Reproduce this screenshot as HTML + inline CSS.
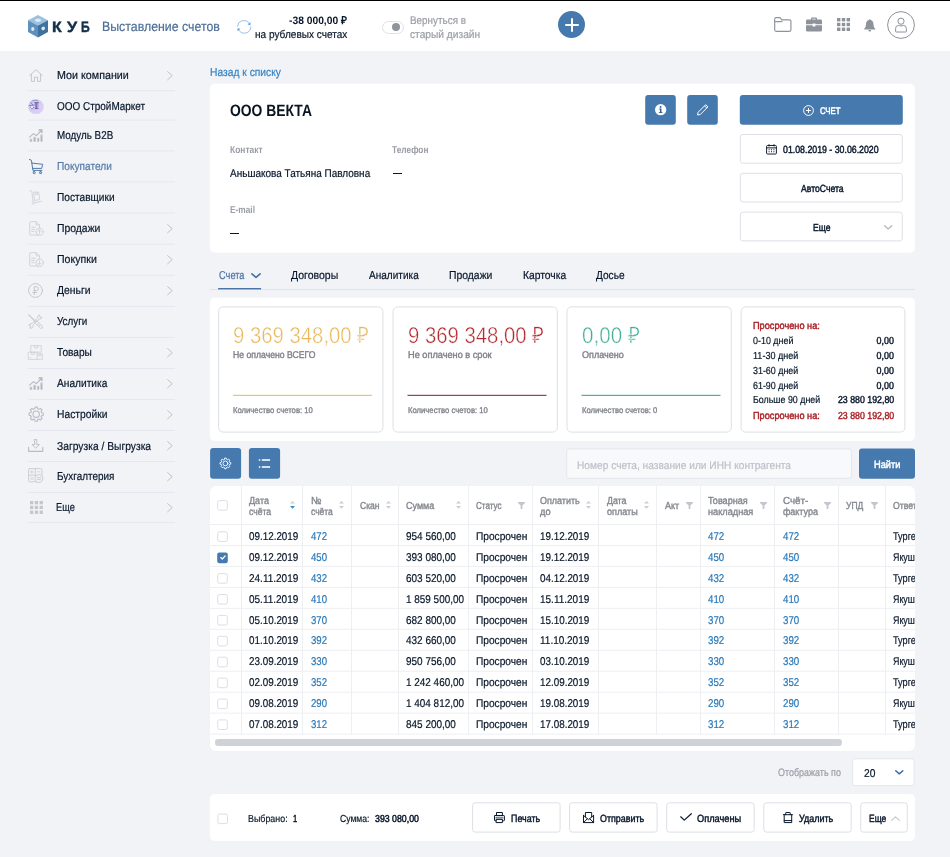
<!DOCTYPE html>
<html lang="ru"><head><meta charset="utf-8"><title>КУБ</title><style>
html,body{margin:0;padding:0;}
body{width:950px;height:857px;overflow:hidden;background:#f2f3f7;font-family:"Liberation Sans", sans-serif;position:relative;}
#root{position:absolute;left:0;top:0;width:950px;height:857px;overflow:hidden;will-change:transform;}
.a{position:absolute;}
.t{position:absolute;white-space:nowrap;line-height:1;transform-origin:0 50%;}
.tr{transform-origin:100% 50%;}
svg{position:absolute;overflow:visible;}
</style></head><body><div id="root">
<div class="a" style="left:0px;top:0px;width:950px;height:51px;background:#fff;"></div><div class="a" style="left:0px;top:0px;width:950px;height:1px;background:#000;"></div><svg style="left:28px;top:15.4px" width="20" height="22.4" viewBox="0 0 20 22.4">
<polygon points="10,0 20,5.3 10,10.6 0,5.3" fill="#9cc0de"/>
<polygon points="0,5.3 10,10.6 10,22.4 0,17.1" fill="#5e90bd"/>
<polygon points="20,5.3 10,10.6 10,22.4 20,17.1" fill="#41729f"/>
<ellipse cx="10" cy="5.2" rx="3" ry="1.7" fill="#dbe9f5"/>
<ellipse cx="4.8" cy="14" rx="1.6" ry="2" fill="#dbe9f5"/>
<ellipse cx="15.2" cy="13.4" rx="1.9" ry="1.7" fill="#dbe9f5" transform="rotate(-28 15.2 13.4)"/>
</svg><span class="t" style="top:19px;font-size:15px;color:#12304b;font-weight:700;left:52.00px;transform:scaleX(1.0594) rotate(0.03deg);-webkit-text-stroke:0.45px #12304b;">К</span><span class="t" style="top:19px;font-size:15px;color:#12304b;font-weight:700;left:67.20px;transform:scaleX(1.0809) rotate(0.03deg);-webkit-text-stroke:0.45px #12304b;">У</span><span class="t" style="top:19px;font-size:15px;color:#12304b;font-weight:700;left:81.20px;transform:scaleX(0.8070) rotate(0.03deg);-webkit-text-stroke:0.45px #12304b;">Б</span><span class="t" style="top:20px;font-size:13.4px;color:#4f6f97;-webkit-text-stroke:0.2px #4f6f97;left:101.70px;transform:scaleX(0.9221) rotate(0.03deg);">Выставление счетов</span><svg style="left:237px;top:20.2px" width="14" height="13.2" viewBox="0 0 14 13.2" fill="none" stroke="#8bb8e5" stroke-width="0.9" stroke-linecap="round">
<path d="M0.4 6.2A6.6 6.5 0 0 1 12.5 3.4"/><path d="M13.9 7.1A6.6 6.5 0 0 1 1.6 9.9"/>
<path d="M13.6 2.2L13.3 5.4L10.6 4.2Z" fill="#5f9fdc" stroke="none"/><path d="M0.4 11.1L0.7 7.9L3.4 9.1Z" fill="#5f9fdc" stroke="none"/></svg><span class="t" style="top:15px;font-size:10.8px;color:#08172a;font-weight:700;left:288.80px;transform:scaleX(0.9515) rotate(0.03deg);">-38 000,00 ₽</span><span class="t" style="top:29px;font-size:11px;color:#08172a;-webkit-text-stroke:0.2px #08172a;left:254.70px;transform:scaleX(0.9156) rotate(0.03deg);">на рублевых счетах</span><div class="a" style="left:381.5px;top:20.5px;width:22px;height:13px;background:#fff;border:1px solid #dfe1e6;box-sizing:border-box;border-radius:7px;"></div><div class="a" style="left:391.6px;top:23px;width:8px;height:8px;background:#8f939b;border-radius:4px;"></div><span class="t" style="top:15px;font-size:11px;color:#9a9da6;-webkit-text-stroke:0.2px #9a9da6;left:409.90px;transform:scaleX(0.8991) rotate(0.03deg);">Вернуться в</span><span class="t" style="top:29px;font-size:11px;color:#9a9da6;-webkit-text-stroke:0.2px #9a9da6;left:409.90px;transform:scaleX(0.9273) rotate(0.03deg);">старый дизайн</span><div class="a" style="left:558px;top:11px;width:27.4px;height:27.4px;background:#4679ae;border-radius:14px;"></div><div class="a" style="left:564.7px;top:23.7px;width:14px;height:2px;background:#fff;border-radius:1px;"></div><div class="a" style="left:570.7px;top:17.7px;width:2px;height:14px;background:#fff;border-radius:1px;"></div><svg style="left:773.5px;top:17px" width="17.6" height="15" viewBox="0 0 18 15" preserveAspectRatio="none" fill="none" stroke="#8e929b" stroke-width="1.2" stroke-linejoin="round">
<path d="M0.7 2.2Q0.7 0.7 2.2 0.7H6.2L8 2.9H15.8Q17.3 2.9 17.3 4.4V12.8Q17.3 14.3 15.8 14.3H2.2Q0.7 14.3 0.7 12.8Z"/><path d="M0.7 4.6H8.6"/></svg><svg style="left:806px;top:17px" width="16" height="15" viewBox="0 0 16 15" fill="#8e929b">
<path d="M5 2.6V1.6Q5 0.4 6.2 0.4H9.8Q11 0.4 11 1.6V2.6H14.6Q16 2.6 16 4V7.2H9.4V6.4H6.6V7.2H0V4Q0 2.6 1.4 2.6ZM6.3 2.6H9.7V1.7H6.3Z"/>
<path d="M0 8.3H6.6V9.4H9.4V8.3H16V13.2Q16 14.6 14.6 14.6H1.4Q0 14.6 0 13.2Z"/></svg><svg style="left:837px;top:18px" width="13" height="13" viewBox="0 0 13 13" fill="#8e929b"><rect x="0" y="0" width="3.4" height="3.4"/><rect x="4.8" y="0" width="3.4" height="3.4"/><rect x="9.6" y="0" width="3.4" height="3.4"/><rect x="0" y="4.8" width="3.4" height="3.4"/><rect x="4.8" y="4.8" width="3.4" height="3.4"/><rect x="9.6" y="4.8" width="3.4" height="3.4"/><rect x="0" y="9.6" width="3.4" height="3.4"/><rect x="4.8" y="9.6" width="3.4" height="3.4"/><rect x="9.6" y="9.6" width="3.4" height="3.4"/></svg><svg style="left:864px;top:19px" width="11.5" height="13" viewBox="0 0 11.5 13" fill="#8e929b">
<path d="M5.75 0.2Q6.6 0.2 6.6 1.1Q9.5 2 9.5 5.4Q9.5 8.4 11.3 9.8V10.4H0.2V9.8Q2 8.4 2 5.4Q2 2 4.9 1.1Q4.9 0.2 5.75 0.2Z"/><path d="M4.3 11.1H7.2Q7.2 12.6 5.75 12.6Q4.3 12.6 4.3 11.1Z"/></svg><svg style="left:887px;top:11px" width="28" height="28" viewBox="0 0 28 28" fill="none" stroke="#8e929b" stroke-width="1">
<circle cx="14" cy="14" r="13.4"/><circle cx="14" cy="10.2" r="3.1"/>
<path d="M8.6 20.4V17.6Q8.6 14.6 11.4 14.4Q14 15.6 16.6 14.4Q19.4 14.6 19.4 17.6V20.4Q19.4 21 18.8 21H9.2Q8.6 21 8.6 20.4Z"/></svg><svg style="left:27px;top:89px" width="149" height="4"><rect x="1.00" y="1.20" width="147.00" height="1.00" rx="0" fill="#e4e7f0"/></svg><svg style="left:27px;top:118px" width="149" height="4"><rect x="1.00" y="1.60" width="147.00" height="1.00" rx="0" fill="#e4e7f0"/></svg><svg style="left:27px;top:149px" width="149" height="4"><rect x="1.00" y="1.40" width="147.00" height="1.00" rx="0" fill="#e4e7f0"/></svg><svg style="left:27px;top:180px" width="149" height="4"><rect x="1.00" y="1.30" width="147.00" height="1.00" rx="0" fill="#e4e7f0"/></svg><svg style="left:27px;top:211px" width="149" height="4"><rect x="1.00" y="1.50" width="147.00" height="1.00" rx="0" fill="#e4e7f0"/></svg><svg style="left:27px;top:242px" width="149" height="4"><rect x="1.00" y="1.70" width="147.00" height="1.00" rx="0" fill="#e4e7f0"/></svg><svg style="left:27px;top:273px" width="149" height="4"><rect x="1.00" y="1.80" width="147.00" height="1.00" rx="0" fill="#e4e7f0"/></svg><svg style="left:27px;top:304px" width="149" height="4"><rect x="1.00" y="1.90" width="147.00" height="1.00" rx="0" fill="#e4e7f0"/></svg><svg style="left:27px;top:335px" width="149" height="4"><rect x="1.00" y="1.90" width="147.00" height="1.00" rx="0" fill="#e4e7f0"/></svg><svg style="left:27px;top:367px" width="149" height="3"><rect x="1.00" y="1.00" width="147.00" height="1.00" rx="0" fill="#e4e7f0"/></svg><svg style="left:27px;top:398px" width="149" height="4"><rect x="1.00" y="1.10" width="147.00" height="1.00" rx="0" fill="#e4e7f0"/></svg><svg style="left:27px;top:429px" width="149" height="3"><rect x="1.00" y="1.00" width="147.00" height="1.00" rx="0" fill="#e4e7f0"/></svg><svg style="left:27px;top:460px" width="149" height="3"><rect x="1.00" y="1.00" width="147.00" height="1.00" rx="0" fill="#e4e7f0"/></svg><svg style="left:27px;top:490px" width="149" height="4"><rect x="1.00" y="1.90" width="147.00" height="1.00" rx="0" fill="#e4e7f0"/></svg><svg style="left:27px;top:521px" width="149" height="4"><rect x="1.00" y="1.10" width="147.00" height="1.00" rx="0" fill="#e4e7f0"/></svg><span class="t" style="top:70px;font-size:11.5px;color:#08172a;-webkit-text-stroke:0.2px #08172a;left:56.80px;transform:scaleX(0.9323) rotate(0.03deg);">Мои компании</span><svg style="left:28.5px;top:68.8px" width="14" height="13" viewBox="0 0 14 13" fill="none" stroke="#c3c6cd" stroke-width="1" stroke-linecap="round" stroke-linejoin="round"><path d="M0.6 6.6L7 0.7L13.4 6.6"/><path d="M2.4 5.4V12.4H5.4V8.2H8.6V12.4H11.6V5.4"/></svg><svg style="left:167px;top:71.3px" width="6" height="9.4" viewBox="0 0 6 9.4" fill="none" stroke="#b9bcc4" stroke-width="0.9" stroke-linecap="round" stroke-linejoin="round"><path d="M0.6 0.6L5.2 4.7L0.6 8.8"/></svg><span class="t" style="top:101px;font-size:11.5px;color:#08172a;-webkit-text-stroke:0.2px #08172a;left:56.80px;transform:scaleX(0.8657) rotate(0.03deg);">ООО СтройМаркет</span><svg style="left:28.1px;top:98.6px" width="16" height="15.4" viewBox="0 0 16 15.4"><defs><linearGradient id="avg" x1="0" y1="0" x2="1" y2="1"><stop offset="0" stop-color="#c9c6e6"/><stop offset="0.5" stop-color="#d9ccf3"/><stop offset="1" stop-color="#e0cdfb"/></linearGradient></defs><ellipse cx="8" cy="7.7" rx="7.8" ry="7.4" fill="url(#avg)"/><g fill="none" stroke="#4a4893" stroke-opacity="0.75" stroke-width="0.9" stroke-linecap="round"><path d="M6.6 3.6H10.6"/><path d="M8.1 4.2V9.4" stroke-width="1.6" stroke-opacity="0.7"/><path d="M9.8 4.2V9.4" stroke-opacity="0.55"/><path d="M7 9.6H10.2" stroke-opacity="0.6"/><path d="M2.6 3.4L4.6 5.6M1.2 6.6L6.4 6" stroke-opacity="0.6"/><path d="M2.6 8.2L4 10.2L6 8.2" stroke-opacity="0.7"/><path d="M4 1.8Q7 0.6 9.6 1.4" stroke-opacity="0.45"/></g><circle cx="3.9" cy="8.4" r="1" fill="#fff" fill-opacity="0.85"/></svg><span class="t" style="top:130px;font-size:11.5px;color:#08172a;-webkit-text-stroke:0.2px #08172a;left:56.80px;transform:scaleX(0.8554) rotate(0.03deg);">Модуль B2B</span><svg style="left:28.5px;top:129.2px" width="14" height="13" viewBox="0 0 14 13" fill="none" stroke="#b7bac2" stroke-width="1.1" stroke-linecap="round" stroke-linejoin="round"><path d="M0.6 8.2L4.6 4.6L7.4 6.6L12.8 1"/><path d="M10 0.8H13V3.8Z" fill="#b7bac2"/><path d="M1.2 10.4V12.4H2.8V10.4ZM4.8 8.6V12.4H6.4V8.6ZM8.4 9.6V12.4H10V9.6ZM11.8 6.2V12.4H13.2V6.2Z" fill="#b7bac2" stroke-width="0.6"/></svg><span class="t" style="top:161px;font-size:11.5px;color:#557aa8;-webkit-text-stroke:0.2px #557aa8;left:56.80px;transform:scaleX(0.8821) rotate(0.03deg);">Покупатели</span><svg style="left:28.5px;top:158.8px" width="15" height="15.4" viewBox="0 0 15 15.4" fill="none" stroke="#4a74a6" stroke-width="0.95" stroke-linecap="round" stroke-linejoin="round"><path d="M0.4 0.5L2.4 1.3L3.9 11.4H12.9"/><path d="M2.9 4.1L13.7 5.3L12.7 9.4H3.6"/><rect x="4.2" y="12.7" width="2" height="1.9" rx="0.6"/><rect x="10.6" y="12.7" width="2" height="1.9" rx="0.6"/></svg><span class="t" style="top:192px;font-size:11.5px;color:#08172a;-webkit-text-stroke:0.2px #08172a;left:56.80px;transform:scaleX(0.8806) rotate(0.03deg);">Поставщики</span><svg style="left:28.5px;top:189.5px" width="14" height="15" viewBox="0 0 14 15" fill="none" stroke="#d3d6dc" stroke-width="1" stroke-linecap="round" stroke-linejoin="round"><path d="M0.8 0.8H2.8L4 11.6"/><path d="M5 2.2H9.6L10.8 9.6L5.8 10.4Z"/><path d="M6.6 2.2V4.6H8.4V2.2"/><circle cx="4.4" cy="13" r="1.3"/><path d="M5.8 12.6L12.8 11.4"/></svg><span class="t" style="top:223px;font-size:11.5px;color:#08172a;-webkit-text-stroke:0.2px #08172a;left:56.80px;transform:scaleX(0.9036) rotate(0.03deg);">Продажи</span><svg style="left:28.5px;top:220.8px" width="15" height="15" viewBox="0 0 15 15" fill="none" stroke="#d0d3d9" stroke-width="1" stroke-linecap="round" stroke-linejoin="round"><path d="M9.6 14H1.4Q0.7 14 0.7 13.3V1.4Q0.7 0.7 1.4 0.7H7.2L10.4 3.9V7"/><path d="M7.2 0.7V3.9H10.4"/><path d="M2.6 6.2H6.4M2.6 8.4H5.6M2.6 10.6H5"/><circle cx="10.6" cy="10.8" r="3.7"/><path d="M10.6 12.8V9M9 10.4L10.6 8.8L12.2 10.4"/></svg><svg style="left:167px;top:224.3px" width="6" height="9.4" viewBox="0 0 6 9.4" fill="none" stroke="#b9bcc4" stroke-width="0.9" stroke-linecap="round" stroke-linejoin="round"><path d="M0.6 0.6L5.2 4.7L0.6 8.8"/></svg><span class="t" style="top:254px;font-size:11.5px;color:#08172a;-webkit-text-stroke:0.2px #08172a;left:56.80px;transform:scaleX(0.9199) rotate(0.03deg);">Покупки</span><svg style="left:28.5px;top:251.7px" width="15" height="15" viewBox="0 0 15 15" fill="none" stroke="#d0d3d9" stroke-width="1" stroke-linecap="round" stroke-linejoin="round"><path d="M9.6 14H1.4Q0.7 14 0.7 13.3V1.4Q0.7 0.7 1.4 0.7H7.2L10.4 3.9V7"/><path d="M7.2 0.7V3.9H10.4"/><path d="M2.6 6.2H6.4M2.6 8.4H5.6M2.6 10.6H5"/><circle cx="10.6" cy="10.8" r="3.7"/><path d="M10.6 8.8V12.6M9 11.2L10.6 12.8L12.2 11.2"/></svg><svg style="left:167px;top:255.2px" width="6" height="9.4" viewBox="0 0 6 9.4" fill="none" stroke="#b9bcc4" stroke-width="0.9" stroke-linecap="round" stroke-linejoin="round"><path d="M0.6 0.6L5.2 4.7L0.6 8.8"/></svg><span class="t" style="top:285px;font-size:11.5px;color:#08172a;-webkit-text-stroke:0.2px #08172a;left:56.80px;transform:scaleX(0.9043) rotate(0.03deg);">Деньги</span><svg style="left:28px;top:282.8px" width="15" height="15" viewBox="0 0 15 15" fill="none" stroke="#c3c6cd" stroke-width="1" stroke-linecap="round" stroke-linejoin="round"><circle cx="7.5" cy="7.5" r="6.9"/><path d="M6.2 11.6V3.8H8.4Q10.4 3.8 10.4 5.7Q10.4 7.6 8.4 7.6H6.2M4.8 9.5H8.6"/></svg><svg style="left:167px;top:286.3px" width="6" height="9.4" viewBox="0 0 6 9.4" fill="none" stroke="#b9bcc4" stroke-width="0.9" stroke-linecap="round" stroke-linejoin="round"><path d="M0.6 0.6L5.2 4.7L0.6 8.8"/></svg><span class="t" style="top:316px;font-size:11.5px;color:#08172a;-webkit-text-stroke:0.2px #08172a;left:56.80px;transform:scaleX(0.8594) rotate(0.03deg);">Услуги</span><svg style="left:28.2px;top:313.6px" width="15.4" height="15" viewBox="0 0 15.4 15" fill="none" stroke="#c6c9d0" stroke-width="0.9" stroke-linecap="round" stroke-linejoin="round"><path d="M0.8 0.9L7.2 7.2" stroke-width="1.3"/><path d="M7.6 7.4L8.8 6.6L14.4 12.2Q15 13.4 14.2 14.1Q13.3 14.7 12.4 14L6.8 8.6Z"/><path d="M9 10.4L11.2 12.8M10 9.4L12.2 11.8" stroke-width="0.6"/><path d="M11.2 0.9Q9.2 1.6 9.6 3.8L3.6 9.8Q1.4 9.4 0.8 11.4L2.4 11.6L3 13.2L1.6 13.9Q3.4 14.8 4.8 13.4Q5.4 12.6 5 11.2L11 5.2Q13.2 5.6 13.9 3.6L12.3 3.4L11.8 1.9Z"/></svg><span class="t" style="top:347px;font-size:11.5px;color:#08172a;-webkit-text-stroke:0.2px #08172a;left:56.80px;transform:scaleX(0.8821) rotate(0.03deg);">Товары</span><svg style="left:28.1px;top:344.7px" width="15" height="15" viewBox="0 0 15 15" fill="none" stroke="#cfd2d8" stroke-width="0.9" stroke-linecap="round" stroke-linejoin="round"><rect x="3.2" y="0.6" width="10" height="6.6"/><path d="M6.6 0.6V2.8H9.6V0.6"/><rect x="0.6" y="7.2" width="8.6" height="7.2"/><path d="M3.4 7.2V9.4H6.2V7.2"/><path d="M9.2 9H14.4V14.4H9.2"/><path d="M11 9V10.8H12.8V9"/><path d="M1.8 12.8H3" stroke-width="0.7"/></svg><svg style="left:167px;top:347.9px" width="6" height="9.4" viewBox="0 0 6 9.4" fill="none" stroke="#b9bcc4" stroke-width="0.9" stroke-linecap="round" stroke-linejoin="round"><path d="M0.6 0.6L5.2 4.7L0.6 8.8"/></svg><span class="t" style="top:378px;font-size:11.5px;color:#08172a;-webkit-text-stroke:0.2px #08172a;left:56.80px;transform:scaleX(0.8854) rotate(0.03deg);">Аналитика</span><svg style="left:28.5px;top:376.7px" width="14" height="13" viewBox="0 0 14 13" fill="none" stroke="#b7bac2" stroke-width="1.1" stroke-linecap="round" stroke-linejoin="round"><path d="M0.6 8.2L4.6 4.6L7.4 6.6L12.8 1"/><path d="M10 0.8H13V3.8Z" fill="#b7bac2"/><path d="M1.2 10.4V12.4H2.8V10.4ZM4.8 8.6V12.4H6.4V8.6ZM8.4 9.6V12.4H10V9.6ZM11.8 6.2V12.4H13.2V6.2Z" fill="#b7bac2" stroke-width="0.6"/></svg><svg style="left:167px;top:379.2px" width="6" height="9.4" viewBox="0 0 6 9.4" fill="none" stroke="#b9bcc4" stroke-width="0.9" stroke-linecap="round" stroke-linejoin="round"><path d="M0.6 0.6L5.2 4.7L0.6 8.8"/></svg><span class="t" style="top:409px;font-size:11.5px;color:#08172a;-webkit-text-stroke:0.2px #08172a;left:56.80px;transform:scaleX(0.8938) rotate(0.03deg);">Настройки</span><svg style="left:27.6px;top:405.8px" width="16.4" height="16.4" viewBox="0 0 16.4 16.4" fill="none" stroke="#b9bcc4" stroke-width="1.1" stroke-linecap="round" stroke-linejoin="round"><polygon points="6.76,2.79 7.02,1.10 9.38,1.10 9.64,2.79 11.01,3.36 12.39,2.34 14.06,4.01 13.04,5.39 13.61,6.76 15.30,7.02 15.30,9.38 13.61,9.64 13.04,11.01 14.06,12.39 12.39,14.06 11.01,13.04 9.64,13.61 9.38,15.30 7.02,15.30 6.76,13.61 5.39,13.04 4.01,14.06 2.34,12.39 3.36,11.01 2.79,9.64 1.10,9.38 1.10,7.02 2.79,6.76 3.36,5.39 2.34,4.01 4.01,2.34 5.39,3.36"/><circle cx="8.2" cy="8.2" r="3.2"/></svg><svg style="left:167px;top:410.1px" width="6" height="9.4" viewBox="0 0 6 9.4" fill="none" stroke="#b9bcc4" stroke-width="0.9" stroke-linecap="round" stroke-linejoin="round"><path d="M0.6 0.6L5.2 4.7L0.6 8.8"/></svg><span class="t" style="top:441px;font-size:11.5px;color:#08172a;-webkit-text-stroke:0.2px #08172a;left:56.80px;transform:scaleX(0.8945) rotate(0.03deg);">Загрузка / Выгрузка</span><svg style="left:27.7px;top:438.6px" width="15.4" height="13.2" viewBox="0 0 15.4 13.2" fill="none" stroke="#b9bcc4" stroke-width="1.1" stroke-linecap="round" stroke-linejoin="round"><path d="M6.6 0.6H8.8V5.6H11.4L7.7 9.2L4 5.6H6.6Z" stroke-width="0.9"/><path d="M0.6 8.4V12.4H14.8V8.4"/></svg><svg style="left:167px;top:441.4px" width="6" height="9.4" viewBox="0 0 6 9.4" fill="none" stroke="#b9bcc4" stroke-width="0.9" stroke-linecap="round" stroke-linejoin="round"><path d="M0.6 0.6L5.2 4.7L0.6 8.8"/></svg><span class="t" style="top:471px;font-size:11.5px;color:#08172a;-webkit-text-stroke:0.2px #08172a;left:56.80px;transform:scaleX(0.8640) rotate(0.03deg);">Бухгалтерия</span><svg style="left:27.7px;top:468.2px" width="15.4" height="15" viewBox="0 0 15.4 15" fill="none" stroke="#c6c9d0" stroke-width="0.9" stroke-linecap="round" stroke-linejoin="round"><rect x="0.6" y="0.6" width="13.4" height="13.2" rx="1.2"/><path d="M7.3 0.6V7.4M0.6 7.2H7"/><path d="M2.6 3.9H5.2M3.9 2.6V5.2M9.4 3.9H12M2.8 9.4L5 11.6M5 9.4L2.8 11.6" stroke-width="0.8"/><circle cx="10.8" cy="10.6" r="4" fill="#f2f3f7"/><path d="M9 9.6H12.6M9 11.6H12.6" stroke-width="0.9"/></svg><svg style="left:167px;top:472.3px" width="6" height="9.4" viewBox="0 0 6 9.4" fill="none" stroke="#b9bcc4" stroke-width="0.9" stroke-linecap="round" stroke-linejoin="round"><path d="M0.6 0.6L5.2 4.7L0.6 8.8"/></svg><span class="t" style="top:502px;font-size:11.5px;color:#08172a;-webkit-text-stroke:0.2px #08172a;left:55.60px;transform:scaleX(0.8032) rotate(0.03deg);">Еще</span><svg style="left:29.5px;top:500.5px" width="13" height="13" viewBox="0 0 13 13" fill="#c3c6cd"><rect x="0" y="0" width="3.3" height="3.3"/><rect x="4.8" y="0" width="3.3" height="3.3"/><rect x="9.6" y="0" width="3.3" height="3.3"/><rect x="0" y="4.8" width="3.3" height="3.3"/><rect x="4.8" y="4.8" width="3.3" height="3.3"/><rect x="9.6" y="4.8" width="3.3" height="3.3"/><rect x="0" y="9.6" width="3.3" height="3.3"/><rect x="4.8" y="9.6" width="3.3" height="3.3"/><rect x="9.6" y="9.6" width="3.3" height="3.3"/></svg><svg style="left:167px;top:503px" width="6" height="9.4" viewBox="0 0 6 9.4" fill="none" stroke="#b9bcc4" stroke-width="0.9" stroke-linecap="round" stroke-linejoin="round"><path d="M0.6 0.6L5.2 4.7L0.6 8.8"/></svg><span class="t" style="top:67px;font-size:11.5px;color:#3483c2;-webkit-text-stroke:0.2px #3483c2;left:210.00px;transform:scaleX(0.8938) rotate(0.03deg);">Назад к списку</span><svg style="left:208px;top:82px" width="708" height="172"><rect x="1.80" y="1.70" width="705.20" height="169.10" rx="5" fill="#fff"/></svg><span class="t" style="top:102px;font-size:16.5px;color:#0a1420;font-weight:700;left:229.80px;transform:scaleX(0.8414) rotate(0.03deg);">ООО ВЕКТА</span><span class="t" style="top:145px;font-size:10px;color:#9a9da6;font-weight:700;left:229.80px;transform:scaleX(0.8440) rotate(0.03deg);">Контакт</span><span class="t" style="top:145px;font-size:10px;color:#9a9da6;font-weight:700;left:391.50px;transform:scaleX(0.8346) rotate(0.03deg);">Телефон</span><span class="t" style="top:168px;font-size:11.3px;color:#08172a;-webkit-text-stroke:0.2px #08172a;left:229.80px;transform:scaleX(0.8840) rotate(0.03deg);">Аньшакова Татьяна Павловна</span><div class="a" style="left:392.5px;top:173px;width:9px;height:1.2px;background:#08172a;"></div><span class="t" style="top:205px;font-size:10px;color:#9a9da6;font-weight:700;left:229.80px;transform:scaleX(0.8329) rotate(0.03deg);">E-mail</span><div class="a" style="left:229.8px;top:232.6px;width:9.4px;height:1.2px;background:#08172a;"></div><svg style="left:644px;top:93px" width="33" height="33"><rect x="1.20" y="1.90" width="30.60" height="29.80" rx="3" fill="#4679ae"/></svg><svg style="left:654.75px;top:103.75px" width="11.3" height="11.3" viewBox="0 0 11.3 11.3"><circle cx="5.65" cy="5.65" r="5.65" fill="#fff"/><g fill="#2f5d90"><rect x="4.95" y="4.6" width="1.5" height="4.2"/><rect x="4.1" y="4.6" width="1.6" height="0.85"/><rect x="3.9" y="8.1" width="3.6" height="0.85"/><circle cx="5.6" cy="2.9" r="0.95"/></g></svg><svg style="left:686px;top:93px" width="33" height="33"><rect x="1.20" y="1.90" width="30.60" height="29.80" rx="3" fill="#4679ae"/></svg><svg style="left:696.6px;top:104px" width="11.6" height="11.6" viewBox="0 0 11.6 11.6" fill="none" stroke="#fff" stroke-width="1" stroke-linejoin="round"><path d="M0.6 11L1.1 8.3L8.7 0.7L10.9 2.9L3.3 10.5Z"/><path d="M7.6 1.9L9.7 4"/></svg><svg style="left:738px;top:93px" width="166" height="33"><rect x="1.80" y="1.90" width="163.00" height="29.80" rx="3" fill="#4679ae"/></svg><svg style="left:803.2px;top:104.6px" width="11" height="11" viewBox="0 0 11 11" fill="none" stroke="#fff" stroke-width="1"><circle cx="5.5" cy="5.5" r="4.9"/><path d="M5.5 3V8M3 5.5H8"/></svg><span class="t" style="top:106px;font-size:9.6px;color:#fff;left:820.00px;transform:scaleX(0.8074) rotate(0.03deg);-webkit-text-stroke:0.55px #fff;">СЧЕТ</span><svg style="left:738px;top:133px" width="166" height="32"><rect x="2.30" y="1.50" width="162.00" height="28.70" rx="2.5" fill="#fff" stroke="#dcdfe5" stroke-width="1"/></svg><svg style="left:765.8px;top:143.5px" width="11" height="10.6" viewBox="0 0 11 11.5" preserveAspectRatio="none" fill="none" stroke="#08172a" stroke-width="1"><rect x="0.6" y="1.6" width="9.8" height="9.3" rx="1"/><path d="M0.6 4.2H10.4M3 0.3V2.6M8 0.3V2.6" /><path d="M2.6 6.2H3.6M5 6.2H6M7.4 6.2H8.4M2.6 8.4H3.6M5 8.4H6M7.4 8.4H8.4" stroke-width="1.1"/></svg><span class="t" style="top:145px;font-size:10.3px;color:#08172a;left:782.50px;transform:scaleX(0.8518) rotate(0.03deg);-webkit-text-stroke:0.45px #08172a;">01.08.2019 - 30.06.2020</span><svg style="left:738px;top:171px" width="166" height="33"><rect x="2.30" y="2.30" width="162.00" height="28.70" rx="2.5" fill="#fff" stroke="#dcdfe5" stroke-width="1"/></svg><span class="t" style="top:184px;font-size:10.3px;color:#08172a;left:800.50px;transform:scaleX(0.8379) rotate(0.03deg);-webkit-text-stroke:0.45px #08172a;">АвтоСчета</span><svg style="left:738px;top:210px" width="166" height="33"><rect x="2.30" y="2.10" width="162.00" height="28.80" rx="2.5" fill="#fff" stroke="#dcdfe5" stroke-width="1"/></svg><span class="t" style="top:223px;font-size:10.3px;color:#08172a;left:813.20px;transform:scaleX(0.8304) rotate(0.03deg);-webkit-text-stroke:0.45px #08172a;">Еще</span><svg style="left:883.6px;top:224.8px" width="8.4" height="4.8" viewBox="0 0 9 5" fill="none" stroke="#b3b6be" stroke-width="1.3" stroke-linecap="round" stroke-linejoin="round"><path d="M0.7 0.7L4.5 4.2L8.3 0.7"/></svg><svg style="left:208px;top:288px" width="708" height="3"><rect x="1.80" y="1.00" width="705.20" height="1.00" rx="0" fill="#e0e3eb"/></svg><span class="t" style="top:270px;font-size:11.5px;color:#4a74a6;-webkit-text-stroke:0.2px #4a74a6;left:219.40px;transform:scaleX(0.8039) rotate(0.03deg);">Счета</span><svg style="left:251px;top:273.3px" width="10" height="5.4" viewBox="0 0 10 5.4" fill="none" stroke="#4a74a6" stroke-width="1.75" stroke-linecap="round" stroke-linejoin="round"><path d="M0.9 0.9L5 4.4L9.1 0.9"/></svg><svg style="left:217px;top:287px" width="46" height="4"><rect x="1.10" y="1.00" width="43.00" height="1.40" rx="0" fill="#4a74a6"/></svg><span class="t" style="top:270px;font-size:11.5px;color:#08172a;-webkit-text-stroke:0.2px #08172a;left:290.90px;transform:scaleX(0.9129) rotate(0.03deg);">Договоры</span><span class="t" style="top:270px;font-size:11.5px;color:#08172a;-webkit-text-stroke:0.2px #08172a;left:368.70px;transform:scaleX(0.8749) rotate(0.03deg);">Аналитика</span><span class="t" style="top:270px;font-size:11.5px;color:#08172a;-webkit-text-stroke:0.2px #08172a;left:448.70px;transform:scaleX(0.9036) rotate(0.03deg);">Продажи</span><span class="t" style="top:270px;font-size:11.5px;color:#08172a;-webkit-text-stroke:0.2px #08172a;left:522.60px;transform:scaleX(0.8962) rotate(0.03deg);">Карточка</span><span class="t" style="top:270px;font-size:11.5px;color:#08172a;-webkit-text-stroke:0.2px #08172a;left:595.60px;transform:scaleX(0.8813) rotate(0.03deg);">Досье</span><svg style="left:208px;top:296px" width="708" height="146"><rect x="1.80" y="1.70" width="705.20" height="143.30" rx="5" fill="#fff"/></svg><svg style="left:217px;top:305px" width="168" height="129"><rect x="1.60" y="1.90" width="164.30" height="125.20" rx="4.5" fill="#fff" stroke="#dcdfe5" stroke-width="1"/></svg><span class="t" style="top:324px;font-size:22.8px;color:#e8b85a;left:233.40px;transform:scaleX(0.8914) rotate(0.03deg);-webkit-text-stroke:0.45px #fff;">9 369 348,00 ₽</span><span class="t" style="top:350px;font-size:9.8px;color:#80838b;left:233.40px;transform:scaleX(0.8834) rotate(0.03deg);-webkit-text-stroke:0.4px #80838b;">Не оплачено ВСЕГО</span><svg style="left:232px;top:393px" width="142" height="4"><rect x="1.10" y="1.80" width="139.00" height="1.10" rx="0" fill="#e3c25e"/></svg><span class="t" style="top:406px;font-size:8.4px;color:#82858d;left:233.40px;transform:scaleX(0.9176) rotate(0.03deg);-webkit-text-stroke:0.35px #82858d;">Количество счетов: 10</span><svg style="left:391px;top:305px" width="168" height="129"><rect x="2.00" y="1.90" width="164.30" height="125.20" rx="4.5" fill="#fff" stroke="#dcdfe5" stroke-width="1"/></svg><span class="t" style="top:324px;font-size:22.8px;color:#b3282d;left:407.80px;transform:scaleX(0.8914) rotate(0.03deg);-webkit-text-stroke:0.45px #fff;">9 369 348,00 ₽</span><span class="t" style="top:350px;font-size:9.8px;color:#80838b;left:407.80px;transform:scaleX(0.9383) rotate(0.03deg);-webkit-text-stroke:0.4px #80838b;">Не оплачено в срок</span><svg style="left:406px;top:393px" width="142" height="4"><rect x="1.50" y="1.80" width="139.00" height="1.10" rx="0" fill="#9c2b3a"/></svg><span class="t" style="top:406px;font-size:8.4px;color:#82858d;left:407.80px;transform:scaleX(0.9176) rotate(0.03deg);-webkit-text-stroke:0.35px #82858d;">Количество счетов: 10</span><svg style="left:565px;top:305px" width="168" height="129"><rect x="2.00" y="1.90" width="164.30" height="125.20" rx="4.5" fill="#fff" stroke="#dcdfe5" stroke-width="1"/></svg><span class="t" style="top:324px;font-size:22.8px;color:#45b096;left:581.80px;transform:scaleX(0.9042) rotate(0.03deg);-webkit-text-stroke:0.45px #fff;">0,00 ₽</span><span class="t" style="top:350px;font-size:9.8px;color:#80838b;left:581.80px;transform:scaleX(0.9206) rotate(0.03deg);-webkit-text-stroke:0.4px #80838b;">Оплачено</span><svg style="left:580px;top:393px" width="142" height="4"><rect x="1.50" y="1.80" width="139.00" height="1.10" rx="0" fill="#3aa9a0"/></svg><span class="t" style="top:406px;font-size:8.4px;color:#82858d;left:581.80px;transform:scaleX(0.9148) rotate(0.03deg);-webkit-text-stroke:0.35px #82858d;">Количество счетов: 0</span><svg style="left:739px;top:305px" width="168" height="129"><rect x="2.10" y="1.90" width="163.80" height="125.20" rx="4.5" fill="#fff" stroke="#dcdfe5" stroke-width="1"/></svg><span class="t" style="top:321px;font-size:10.2px;color:#ab2328;left:752.70px;transform:scaleX(0.9018) rotate(0.03deg);-webkit-text-stroke:0.45px #ab2328;">Просрочено на:</span><span class="t" style="top:336px;font-size:10.2px;color:#08172a;-webkit-text-stroke:0.2px #08172a;left:752.70px;transform:scaleX(0.8753) rotate(0.03deg);">0-10 дней</span><span class="t tr" style="top:336px;font-size:10.2px;color:#08172a;right:55.80px;transform:scaleX(0.8725) rotate(0.03deg);-webkit-text-stroke:0.45px #08172a;">0,00</span><span class="t" style="top:351px;font-size:10.2px;color:#08172a;-webkit-text-stroke:0.2px #08172a;left:752.70px;transform:scaleX(0.8871) rotate(0.03deg);">11-30 дней</span><span class="t tr" style="top:351px;font-size:10.2px;color:#08172a;right:55.80px;transform:scaleX(0.8725) rotate(0.03deg);-webkit-text-stroke:0.45px #08172a;">0,00</span><span class="t" style="top:366px;font-size:10.2px;color:#08172a;-webkit-text-stroke:0.2px #08172a;left:752.70px;transform:scaleX(0.8740) rotate(0.03deg);">31-60 дней</span><span class="t tr" style="top:366px;font-size:10.2px;color:#08172a;right:55.80px;transform:scaleX(0.8725) rotate(0.03deg);-webkit-text-stroke:0.45px #08172a;">0,00</span><span class="t" style="top:381px;font-size:10.2px;color:#08172a;-webkit-text-stroke:0.2px #08172a;left:752.70px;transform:scaleX(0.8740) rotate(0.03deg);">61-90 дней</span><span class="t tr" style="top:381px;font-size:10.2px;color:#08172a;right:55.80px;transform:scaleX(0.8725) rotate(0.03deg);-webkit-text-stroke:0.45px #08172a;">0,00</span><span class="t" style="top:395px;font-size:10.2px;color:#08172a;-webkit-text-stroke:0.2px #08172a;left:752.70px;transform:scaleX(0.8711) rotate(0.03deg);">Больше 90 дней</span><span class="t tr" style="top:395px;font-size:10.2px;color:#08172a;right:55.80px;transform:scaleX(0.8625) rotate(0.03deg);-webkit-text-stroke:0.45px #08172a;">23 880 192,80</span><span class="t" style="top:411px;font-size:10.2px;color:#ab2328;left:752.70px;transform:scaleX(0.9018) rotate(0.03deg);-webkit-text-stroke:0.45px #ab2328;">Просрочено на:</span><span class="t tr" style="top:411px;font-size:10.2px;color:#ab2328;right:55.80px;transform:scaleX(0.8625) rotate(0.03deg);-webkit-text-stroke:0.45px #ab2328;">23 880 192,80</span><svg style="left:209px;top:446px" width="34" height="34"><rect x="1.10" y="1.90" width="31.00" height="30.90" rx="3" fill="#4679ae"/></svg><svg style="left:219.05px;top:456.95px" width="12.8" height="12.8" viewBox="0 0 12.8 12.8" fill="none" stroke="#fff" stroke-width="0.9" stroke-linecap="round" stroke-linejoin="round"><polygon points="5.40,2.22 5.64,1.05 7.16,1.05 7.40,2.22 8.65,2.73 9.64,2.08 10.72,3.16 10.07,4.15 10.58,5.40 11.75,5.64 11.75,7.16 10.58,7.40 10.07,8.65 10.72,9.64 9.64,10.72 8.65,10.07 7.40,10.58 7.16,11.75 5.64,11.75 5.40,10.58 4.15,10.07 3.16,10.72 2.08,9.64 2.73,8.65 2.22,7.40 1.05,7.16 1.05,5.64 2.22,5.40 2.73,4.15 2.08,3.16 3.16,2.08 4.15,2.73"/><circle cx="6.4" cy="6.4" r="2.4"/></svg><svg style="left:247px;top:446px" width="35" height="34"><rect x="1.90" y="1.90" width="31.20" height="30.90" rx="3" fill="#4679ae"/></svg><svg style="left:257px;top:458px" width="5" height="4"><rect x="1.80" y="1.00" width="1.50" height="2.00" rx="0" fill="#d3e0ee"/></svg><svg style="left:257px;top:465px" width="5" height="4"><rect x="1.80" y="1.00" width="1.50" height="2.00" rx="0" fill="#d3e0ee"/></svg><svg style="left:260px;top:458px" width="12" height="4"><rect x="1.80" y="1.00" width="8.30" height="2.00" rx="0" fill="#d3e0ee"/></svg><svg style="left:260px;top:465px" width="12" height="4"><rect x="1.80" y="1.00" width="8.30" height="2.00" rx="0" fill="#d3e0ee"/></svg><svg style="left:565px;top:447px" width="289" height="33"><rect x="1.70" y="1.90" width="285.00" height="29.40" rx="2.5" fill="#f8f9fb" stroke="#e4e6ec" stroke-width="1"/></svg><span class="t" style="top:460px;font-size:11px;color:#bcbfc7;-webkit-text-stroke:0.2px #bcbfc7;left:577.00px;transform:scaleX(0.9253) rotate(0.03deg);">Номер счета, название или ИНН контрагента</span><svg style="left:858px;top:447px" width="58" height="33"><rect x="1.00" y="1.40" width="56.00" height="30.40" rx="3" fill="#4679ae"/></svg><span class="t" style="top:459px;font-size:10.5px;color:#fff;left:873.80px;transform:scaleX(0.8809) rotate(0.03deg);-webkit-text-stroke:0.5px #fff;">Найти</span><div class="a" style="left:210px;top:486px;width:705px;height:265px;background:#fff;border-radius:6px;overflow:hidden;"><div class="a" style="left:30.9px;top:0px;width:1px;height:248.5px;background:#edeff3;"></div><div class="a" style="left:92.1px;top:0px;width:1px;height:248.5px;background:#edeff3;"></div><div class="a" style="left:140.9px;top:0px;width:1px;height:248.5px;background:#edeff3;"></div><div class="a" style="left:188.1px;top:0px;width:1px;height:248.5px;background:#edeff3;"></div><div class="a" style="left:257.8px;top:0px;width:1px;height:248.5px;background:#edeff3;"></div><div class="a" style="left:322.2px;top:0px;width:1px;height:248.5px;background:#edeff3;"></div><div class="a" style="left:388.3px;top:0px;width:1px;height:248.5px;background:#edeff3;"></div><div class="a" style="left:445.9px;top:0px;width:1px;height:248.5px;background:#edeff3;"></div><div class="a" style="left:490.1px;top:0px;width:1px;height:248.5px;background:#edeff3;"></div><div class="a" style="left:563.9px;top:0px;width:1px;height:248.5px;background:#edeff3;"></div><div class="a" style="left:628.4px;top:0px;width:1px;height:248.5px;background:#edeff3;"></div><div class="a" style="left:675.1px;top:0px;width:1px;height:248.5px;background:#edeff3;"></div><svg style="left:0;top:37px" width="705" height="3"><rect x="0" y="1.00" width="705" height="1" fill="#edeff3"/></svg><svg style="left:0;top:57px" width="705" height="3"><rect x="0" y="1.96" width="705" height="1" fill="#edeff3"/></svg><svg style="left:0;top:78px" width="705" height="3"><rect x="0" y="1.92" width="705" height="1" fill="#edeff3"/></svg><svg style="left:0;top:99px" width="705" height="3"><rect x="0" y="1.88" width="705" height="1" fill="#edeff3"/></svg><svg style="left:0;top:120px" width="705" height="3"><rect x="0" y="1.84" width="705" height="1" fill="#edeff3"/></svg><svg style="left:0;top:141px" width="705" height="3"><rect x="0" y="1.80" width="705" height="1" fill="#edeff3"/></svg><svg style="left:0;top:162px" width="705" height="3"><rect x="0" y="1.76" width="705" height="1" fill="#edeff3"/></svg><svg style="left:0;top:183px" width="705" height="3"><rect x="0" y="1.72" width="705" height="1" fill="#edeff3"/></svg><svg style="left:0;top:204px" width="705" height="3"><rect x="0" y="1.68" width="705" height="1" fill="#edeff3"/></svg><svg style="left:0;top:225px" width="705" height="3"><rect x="0" y="1.64" width="705" height="1" fill="#edeff3"/></svg><svg style="left:0;top:246px" width="705" height="3"><rect x="0" y="1.60" width="705" height="1" fill="#edeff3"/></svg><svg style="left:6px;top:13px" width="13" height="13"><rect x="1.70" y="1.60" width="9.60" height="9.60" rx="1.7" fill="#fff" stroke="#dcdee4" stroke-width="1"/></svg><span class="t" style="top:10px;font-size:10.2px;color:#85888f;left:38.60px;transform:scaleX(0.8820) rotate(0.03deg);-webkit-text-stroke:0.4px #85888f;">Дата</span><span class="t" style="top:21px;font-size:10.2px;color:#85888f;left:38.60px;transform:scaleX(0.8444) rotate(0.03deg);-webkit-text-stroke:0.4px #85888f;">счёта</span><svg style="left:80px;top:15.2px" width="5" height="8" viewBox="0 0 5 8"><path d="M0 2.6L2.5 0L5 2.6Z" fill="#c9ccd2"/><path d="M0 5.1L2.5 7.7L5 5.1Z" fill="#3b8bc8"/></svg><span class="t" style="top:10px;font-size:10.2px;color:#85888f;left:100.50px;transform:scaleX(0.9600) rotate(0.03deg);-webkit-text-stroke:0.4px #85888f;">№</span><span class="t" style="top:21px;font-size:10.2px;color:#85888f;left:100.50px;transform:scaleX(0.8330) rotate(0.03deg);-webkit-text-stroke:0.4px #85888f;">счёта</span><svg style="left:129px;top:15.2px" width="5" height="8" viewBox="0 0 5 8"><path d="M0 2.6L2.5 0L5 2.6Z" fill="#c9ccd2"/><path d="M0 5.1L2.5 7.7L5 5.1Z" fill="#c9ccd2"/></svg><span class="t" style="top:15px;font-size:10.2px;color:#85888f;left:149.60px;transform:scaleX(0.8396) rotate(0.03deg);-webkit-text-stroke:0.4px #85888f;">Скан</span><svg style="left:175.8px;top:15.2px" width="5" height="8" viewBox="0 0 5 8"><path d="M0 2.6L2.5 0L5 2.6Z" fill="#c9ccd2"/><path d="M0 5.1L2.5 7.7L5 5.1Z" fill="#c9ccd2"/></svg><span class="t" style="top:15px;font-size:10.2px;color:#85888f;left:196.40px;transform:scaleX(0.8839) rotate(0.03deg);-webkit-text-stroke:0.4px #85888f;">Сумма</span><svg style="left:246px;top:15.2px" width="5" height="8" viewBox="0 0 5 8"><path d="M0 2.6L2.5 0L5 2.6Z" fill="#c9ccd2"/><path d="M0 5.1L2.5 7.7L5 5.1Z" fill="#c9ccd2"/></svg><span class="t" style="top:15px;font-size:10.2px;color:#85888f;left:266.40px;transform:scaleX(0.7915) rotate(0.03deg);-webkit-text-stroke:0.4px #85888f;">Статус</span><svg style="left:308px;top:15.8px" width="7" height="7" viewBox="0 0 7 7"><path d="M0 0H7V1L4.4 3.6V7H2.6V3.6L0 1Z" fill="#c3c6cc"/></svg><span class="t" style="top:10px;font-size:10.2px;color:#85888f;left:330.20px;transform:scaleX(0.8789) rotate(0.03deg);-webkit-text-stroke:0.4px #85888f;">Оплатить</span><span class="t" style="top:21px;font-size:10.2px;color:#85888f;left:330.20px;transform:scaleX(0.9118) rotate(0.03deg);-webkit-text-stroke:0.4px #85888f;">до</span><svg style="left:375.9px;top:15.2px" width="5" height="8" viewBox="0 0 5 8"><path d="M0 2.6L2.5 0L5 2.6Z" fill="#c9ccd2"/><path d="M0 5.1L2.5 7.7L5 5.1Z" fill="#c9ccd2"/></svg><span class="t" style="top:10px;font-size:10.2px;color:#85888f;left:396.70px;transform:scaleX(0.8598) rotate(0.03deg);-webkit-text-stroke:0.4px #85888f;">Дата</span><span class="t" style="top:21px;font-size:10.2px;color:#85888f;left:396.70px;transform:scaleX(0.8911) rotate(0.03deg);-webkit-text-stroke:0.4px #85888f;">оплаты</span><svg style="left:434.1px;top:15.2px" width="5" height="8" viewBox="0 0 5 8"><path d="M0 2.6L2.5 0L5 2.6Z" fill="#c9ccd2"/><path d="M0 5.1L2.5 7.7L5 5.1Z" fill="#c9ccd2"/></svg><span class="t" style="top:15px;font-size:10.2px;color:#85888f;left:454.50px;transform:scaleX(0.8849) rotate(0.03deg);-webkit-text-stroke:0.4px #85888f;">Акт</span><svg style="left:476px;top:15.8px" width="7" height="7" viewBox="0 0 7 7"><path d="M0 0H7V1L4.4 3.6V7H2.6V3.6L0 1Z" fill="#c3c6cc"/></svg><span class="t" style="top:10px;font-size:10.2px;color:#85888f;left:497.70px;transform:scaleX(0.8915) rotate(0.03deg);-webkit-text-stroke:0.4px #85888f;">Товарная</span><span class="t" style="top:21px;font-size:10.2px;color:#85888f;left:497.70px;transform:scaleX(0.9018) rotate(0.03deg);-webkit-text-stroke:0.4px #85888f;">накладная</span><svg style="left:550px;top:15.8px" width="7" height="7" viewBox="0 0 7 7"><path d="M0 0H7V1L4.4 3.6V7H2.6V3.6L0 1Z" fill="#c3c6cc"/></svg><span class="t" style="top:10px;font-size:10.2px;color:#85888f;left:572.50px;transform:scaleX(0.9627) rotate(0.03deg);-webkit-text-stroke:0.4px #85888f;">Счёт-</span><span class="t" style="top:21px;font-size:10.2px;color:#85888f;left:572.50px;transform:scaleX(0.8787) rotate(0.03deg);-webkit-text-stroke:0.4px #85888f;">фактура</span><svg style="left:614.2px;top:15.8px" width="7" height="7" viewBox="0 0 7 7"><path d="M0 0H7V1L4.4 3.6V7H2.6V3.6L0 1Z" fill="#c3c6cc"/></svg><span class="t" style="top:15px;font-size:10.2px;color:#85888f;left:636.40px;transform:scaleX(0.8308) rotate(0.03deg);-webkit-text-stroke:0.4px #85888f;">УПД</span><svg style="left:660.9px;top:15.8px" width="7" height="7" viewBox="0 0 7 7"><path d="M0 0H7V1L4.4 3.6V7H2.6V3.6L0 1Z" fill="#c3c6cc"/></svg><span class="t" style="top:15px;font-size:10.2px;color:#85888f;left:683.20px;transform:scaleX(0.8521) rotate(0.03deg);-webkit-text-stroke:0.4px #85888f;">Ответственный</span><svg style="left:6px;top:44px" width="13" height="13"><rect x="1.70" y="1.80" width="9.60" height="9.60" rx="1.7" fill="#fff" stroke="#dcdee4" stroke-width="1"/></svg><span class="t" style="top:45px;font-size:11.3px;color:#08172a;-webkit-text-stroke:0.2px #08172a;left:38.80px;transform:scaleX(0.8718) rotate(0.03deg);">09.12.2019</span><span class="t" style="top:45px;font-size:11.3px;color:#2a78b8;-webkit-text-stroke:0.2px #2a78b8;left:100.60px;transform:scaleX(0.8484) rotate(0.03deg);">472</span><span class="t" style="top:45px;font-size:11.3px;color:#08172a;-webkit-text-stroke:0.2px #08172a;left:196.30px;transform:scaleX(0.8825) rotate(0.03deg);">954 560,00</span><span class="t" style="top:45px;font-size:11.3px;color:#08172a;-webkit-text-stroke:0.2px #08172a;left:266.40px;transform:scaleX(0.8990) rotate(0.03deg);">Просрочен</span><span class="t" style="top:45px;font-size:11.3px;color:#08172a;-webkit-text-stroke:0.2px #08172a;left:330.20px;transform:scaleX(0.8718) rotate(0.03deg);">19.12.2019</span><span class="t" style="top:45px;font-size:11.3px;color:#2a78b8;-webkit-text-stroke:0.2px #2a78b8;left:497.70px;transform:scaleX(0.8590) rotate(0.03deg);">472</span><span class="t" style="top:45px;font-size:11.3px;color:#2a78b8;-webkit-text-stroke:0.2px #2a78b8;left:572.50px;transform:scaleX(0.8590) rotate(0.03deg);">472</span><span class="t" style="top:45px;font-size:11.3px;color:#08172a;-webkit-text-stroke:0.2px #08172a;left:683.20px;transform:scaleX(0.8128) rotate(0.03deg);">Тургенев</span><svg style="left:6px;top:65px" width="13" height="14"><rect x="1.20" y="1.40" width="10.60" height="10.90" rx="2.2" fill="#4679ae"/></svg><svg style="left:9.6px;top:69.3px" width="6" height="5" viewBox="0 0 6 5" fill="none" stroke="#fff" stroke-width="1.3" stroke-linecap="round" stroke-linejoin="round"><path d="M0.8 2.6L2.3 4L5.2 0.9"/></svg><span class="t" style="top:66px;font-size:11.3px;color:#08172a;-webkit-text-stroke:0.2px #08172a;left:38.80px;transform:scaleX(0.8718) rotate(0.03deg);">09.12.2019</span><span class="t" style="top:66px;font-size:11.3px;color:#2a78b8;-webkit-text-stroke:0.2px #2a78b8;left:100.60px;transform:scaleX(0.8484) rotate(0.03deg);">450</span><span class="t" style="top:66px;font-size:11.3px;color:#08172a;-webkit-text-stroke:0.2px #08172a;left:196.30px;transform:scaleX(0.8825) rotate(0.03deg);">393 080,00</span><span class="t" style="top:66px;font-size:11.3px;color:#08172a;-webkit-text-stroke:0.2px #08172a;left:266.40px;transform:scaleX(0.8990) rotate(0.03deg);">Просрочен</span><span class="t" style="top:66px;font-size:11.3px;color:#08172a;-webkit-text-stroke:0.2px #08172a;left:330.20px;transform:scaleX(0.8718) rotate(0.03deg);">19.12.2019</span><span class="t" style="top:66px;font-size:11.3px;color:#2a78b8;-webkit-text-stroke:0.2px #2a78b8;left:497.70px;transform:scaleX(0.8590) rotate(0.03deg);">450</span><span class="t" style="top:66px;font-size:11.3px;color:#2a78b8;-webkit-text-stroke:0.2px #2a78b8;left:572.50px;transform:scaleX(0.8590) rotate(0.03deg);">450</span><span class="t" style="top:66px;font-size:11.3px;color:#08172a;-webkit-text-stroke:0.2px #08172a;left:683.20px;transform:scaleX(0.7829) rotate(0.03deg);">Якушев</span><svg style="left:6px;top:86px" width="13" height="13"><rect x="1.70" y="1.60" width="9.60" height="9.60" rx="1.7" fill="#fff" stroke="#dcdee4" stroke-width="1"/></svg><span class="t" style="top:87px;font-size:11.3px;color:#08172a;-webkit-text-stroke:0.2px #08172a;left:38.80px;transform:scaleX(0.8850) rotate(0.03deg);">24.11.2019</span><span class="t" style="top:87px;font-size:11.3px;color:#2a78b8;-webkit-text-stroke:0.2px #2a78b8;left:100.60px;transform:scaleX(0.8484) rotate(0.03deg);">432</span><span class="t" style="top:87px;font-size:11.3px;color:#08172a;-webkit-text-stroke:0.2px #08172a;left:196.30px;transform:scaleX(0.8825) rotate(0.03deg);">603 520,00</span><span class="t" style="top:87px;font-size:11.3px;color:#08172a;-webkit-text-stroke:0.2px #08172a;left:266.40px;transform:scaleX(0.8990) rotate(0.03deg);">Просрочен</span><span class="t" style="top:87px;font-size:11.3px;color:#08172a;-webkit-text-stroke:0.2px #08172a;left:330.20px;transform:scaleX(0.8718) rotate(0.03deg);">04.12.2019</span><span class="t" style="top:87px;font-size:11.3px;color:#2a78b8;-webkit-text-stroke:0.2px #2a78b8;left:497.70px;transform:scaleX(0.8590) rotate(0.03deg);">432</span><span class="t" style="top:87px;font-size:11.3px;color:#2a78b8;-webkit-text-stroke:0.2px #2a78b8;left:572.50px;transform:scaleX(0.8590) rotate(0.03deg);">432</span><span class="t" style="top:87px;font-size:11.3px;color:#08172a;-webkit-text-stroke:0.2px #08172a;left:683.20px;transform:scaleX(0.8128) rotate(0.03deg);">Тургенев</span><svg style="left:6px;top:107px" width="13" height="13"><rect x="1.70" y="1.50" width="9.60" height="9.60" rx="1.7" fill="#fff" stroke="#dcdee4" stroke-width="1"/></svg><span class="t" style="top:108px;font-size:11.3px;color:#08172a;-webkit-text-stroke:0.2px #08172a;left:38.80px;transform:scaleX(0.8850) rotate(0.03deg);">05.11.2019</span><span class="t" style="top:108px;font-size:11.3px;color:#2a78b8;-webkit-text-stroke:0.2px #2a78b8;left:100.60px;transform:scaleX(0.8484) rotate(0.03deg);">410</span><span class="t" style="top:108px;font-size:11.3px;color:#08172a;-webkit-text-stroke:0.2px #08172a;left:196.30px;transform:scaleX(0.8792) rotate(0.03deg);">1 859 500,00</span><span class="t" style="top:108px;font-size:11.3px;color:#08172a;-webkit-text-stroke:0.2px #08172a;left:266.40px;transform:scaleX(0.8990) rotate(0.03deg);">Просрочен</span><span class="t" style="top:108px;font-size:11.3px;color:#08172a;-webkit-text-stroke:0.2px #08172a;left:330.20px;transform:scaleX(0.8850) rotate(0.03deg);">15.11.2019</span><span class="t" style="top:108px;font-size:11.3px;color:#2a78b8;-webkit-text-stroke:0.2px #2a78b8;left:497.70px;transform:scaleX(0.8590) rotate(0.03deg);">410</span><span class="t" style="top:108px;font-size:11.3px;color:#2a78b8;-webkit-text-stroke:0.2px #2a78b8;left:572.50px;transform:scaleX(0.8590) rotate(0.03deg);">410</span><span class="t" style="top:108px;font-size:11.3px;color:#08172a;-webkit-text-stroke:0.2px #08172a;left:683.20px;transform:scaleX(0.7829) rotate(0.03deg);">Якушев</span><svg style="left:6px;top:127px" width="13" height="14"><rect x="1.70" y="2.40" width="9.60" height="9.60" rx="1.7" fill="#fff" stroke="#dcdee4" stroke-width="1"/></svg><span class="t" style="top:129px;font-size:11.3px;color:#08172a;-webkit-text-stroke:0.2px #08172a;left:38.80px;transform:scaleX(0.8718) rotate(0.03deg);">05.10.2019</span><span class="t" style="top:129px;font-size:11.3px;color:#2a78b8;-webkit-text-stroke:0.2px #2a78b8;left:100.60px;transform:scaleX(0.8484) rotate(0.03deg);">370</span><span class="t" style="top:129px;font-size:11.3px;color:#08172a;-webkit-text-stroke:0.2px #08172a;left:196.30px;transform:scaleX(0.8825) rotate(0.03deg);">682 800,00</span><span class="t" style="top:129px;font-size:11.3px;color:#08172a;-webkit-text-stroke:0.2px #08172a;left:266.40px;transform:scaleX(0.8990) rotate(0.03deg);">Просрочен</span><span class="t" style="top:129px;font-size:11.3px;color:#08172a;-webkit-text-stroke:0.2px #08172a;left:330.20px;transform:scaleX(0.8718) rotate(0.03deg);">15.10.2019</span><span class="t" style="top:129px;font-size:11.3px;color:#2a78b8;-webkit-text-stroke:0.2px #2a78b8;left:497.70px;transform:scaleX(0.8590) rotate(0.03deg);">370</span><span class="t" style="top:129px;font-size:11.3px;color:#2a78b8;-webkit-text-stroke:0.2px #2a78b8;left:572.50px;transform:scaleX(0.8590) rotate(0.03deg);">370</span><span class="t" style="top:129px;font-size:11.3px;color:#08172a;-webkit-text-stroke:0.2px #08172a;left:683.20px;transform:scaleX(0.7829) rotate(0.03deg);">Якушев</span><svg style="left:6px;top:148px" width="13" height="14"><rect x="1.70" y="2.30" width="9.60" height="9.60" rx="1.7" fill="#fff" stroke="#dcdee4" stroke-width="1"/></svg><span class="t" style="top:149px;font-size:11.3px;color:#08172a;-webkit-text-stroke:0.2px #08172a;left:38.80px;transform:scaleX(0.8718) rotate(0.03deg);">01.10.2019</span><span class="t" style="top:149px;font-size:11.3px;color:#2a78b8;-webkit-text-stroke:0.2px #2a78b8;left:100.60px;transform:scaleX(0.8484) rotate(0.03deg);">392</span><span class="t" style="top:149px;font-size:11.3px;color:#08172a;-webkit-text-stroke:0.2px #08172a;left:196.30px;transform:scaleX(0.8825) rotate(0.03deg);">432 660,00</span><span class="t" style="top:149px;font-size:11.3px;color:#08172a;-webkit-text-stroke:0.2px #08172a;left:266.40px;transform:scaleX(0.8990) rotate(0.03deg);">Просрочен</span><span class="t" style="top:149px;font-size:11.3px;color:#08172a;-webkit-text-stroke:0.2px #08172a;left:330.20px;transform:scaleX(0.8850) rotate(0.03deg);">11.10.2019</span><span class="t" style="top:149px;font-size:11.3px;color:#2a78b8;-webkit-text-stroke:0.2px #2a78b8;left:497.70px;transform:scaleX(0.8590) rotate(0.03deg);">392</span><span class="t" style="top:149px;font-size:11.3px;color:#2a78b8;-webkit-text-stroke:0.2px #2a78b8;left:572.50px;transform:scaleX(0.8590) rotate(0.03deg);">392</span><span class="t" style="top:149px;font-size:11.3px;color:#08172a;-webkit-text-stroke:0.2px #08172a;left:683.20px;transform:scaleX(0.8128) rotate(0.03deg);">Тургенев</span><svg style="left:6px;top:169px" width="13" height="14"><rect x="1.70" y="2.20" width="9.60" height="9.60" rx="1.7" fill="#fff" stroke="#dcdee4" stroke-width="1"/></svg><span class="t" style="top:170px;font-size:11.3px;color:#08172a;-webkit-text-stroke:0.2px #08172a;left:38.80px;transform:scaleX(0.8718) rotate(0.03deg);">23.09.2019</span><span class="t" style="top:170px;font-size:11.3px;color:#2a78b8;-webkit-text-stroke:0.2px #2a78b8;left:100.60px;transform:scaleX(0.8484) rotate(0.03deg);">330</span><span class="t" style="top:170px;font-size:11.3px;color:#08172a;-webkit-text-stroke:0.2px #08172a;left:196.30px;transform:scaleX(0.8825) rotate(0.03deg);">950 756,00</span><span class="t" style="top:170px;font-size:11.3px;color:#08172a;-webkit-text-stroke:0.2px #08172a;left:266.40px;transform:scaleX(0.8990) rotate(0.03deg);">Просрочен</span><span class="t" style="top:170px;font-size:11.3px;color:#08172a;-webkit-text-stroke:0.2px #08172a;left:330.20px;transform:scaleX(0.8718) rotate(0.03deg);">03.10.2019</span><span class="t" style="top:170px;font-size:11.3px;color:#2a78b8;-webkit-text-stroke:0.2px #2a78b8;left:497.70px;transform:scaleX(0.8590) rotate(0.03deg);">330</span><span class="t" style="top:170px;font-size:11.3px;color:#2a78b8;-webkit-text-stroke:0.2px #2a78b8;left:572.50px;transform:scaleX(0.8590) rotate(0.03deg);">330</span><span class="t" style="top:170px;font-size:11.3px;color:#08172a;-webkit-text-stroke:0.2px #08172a;left:683.20px;transform:scaleX(0.7829) rotate(0.03deg);">Якушев</span><svg style="left:6px;top:190px" width="13" height="14"><rect x="1.70" y="2.10" width="9.60" height="9.60" rx="1.7" fill="#fff" stroke="#dcdee4" stroke-width="1"/></svg><span class="t" style="top:191px;font-size:11.3px;color:#08172a;-webkit-text-stroke:0.2px #08172a;left:38.80px;transform:scaleX(0.8718) rotate(0.03deg);">02.09.2019</span><span class="t" style="top:191px;font-size:11.3px;color:#2a78b8;-webkit-text-stroke:0.2px #2a78b8;left:100.60px;transform:scaleX(0.8484) rotate(0.03deg);">352</span><span class="t" style="top:191px;font-size:11.3px;color:#08172a;-webkit-text-stroke:0.2px #08172a;left:196.30px;transform:scaleX(0.8792) rotate(0.03deg);">1 242 460,00</span><span class="t" style="top:191px;font-size:11.3px;color:#08172a;-webkit-text-stroke:0.2px #08172a;left:266.40px;transform:scaleX(0.8990) rotate(0.03deg);">Просрочен</span><span class="t" style="top:191px;font-size:11.3px;color:#08172a;-webkit-text-stroke:0.2px #08172a;left:330.20px;transform:scaleX(0.8718) rotate(0.03deg);">12.09.2019</span><span class="t" style="top:191px;font-size:11.3px;color:#2a78b8;-webkit-text-stroke:0.2px #2a78b8;left:497.70px;transform:scaleX(0.8590) rotate(0.03deg);">352</span><span class="t" style="top:191px;font-size:11.3px;color:#2a78b8;-webkit-text-stroke:0.2px #2a78b8;left:572.50px;transform:scaleX(0.8590) rotate(0.03deg);">352</span><span class="t" style="top:191px;font-size:11.3px;color:#08172a;-webkit-text-stroke:0.2px #08172a;left:683.20px;transform:scaleX(0.8128) rotate(0.03deg);">Тургенев</span><svg style="left:6px;top:211px" width="13" height="14"><rect x="1.70" y="2.00" width="9.60" height="9.60" rx="1.7" fill="#fff" stroke="#dcdee4" stroke-width="1"/></svg><span class="t" style="top:212px;font-size:11.3px;color:#08172a;-webkit-text-stroke:0.2px #08172a;left:38.80px;transform:scaleX(0.8718) rotate(0.03deg);">09.08.2019</span><span class="t" style="top:212px;font-size:11.3px;color:#2a78b8;-webkit-text-stroke:0.2px #2a78b8;left:100.60px;transform:scaleX(0.8484) rotate(0.03deg);">290</span><span class="t" style="top:212px;font-size:11.3px;color:#08172a;-webkit-text-stroke:0.2px #08172a;left:196.30px;transform:scaleX(0.8792) rotate(0.03deg);">1 404 812,00</span><span class="t" style="top:212px;font-size:11.3px;color:#08172a;-webkit-text-stroke:0.2px #08172a;left:266.40px;transform:scaleX(0.8990) rotate(0.03deg);">Просрочен</span><span class="t" style="top:212px;font-size:11.3px;color:#08172a;-webkit-text-stroke:0.2px #08172a;left:330.20px;transform:scaleX(0.8718) rotate(0.03deg);">19.08.2019</span><span class="t" style="top:212px;font-size:11.3px;color:#2a78b8;-webkit-text-stroke:0.2px #2a78b8;left:497.70px;transform:scaleX(0.8590) rotate(0.03deg);">290</span><span class="t" style="top:212px;font-size:11.3px;color:#2a78b8;-webkit-text-stroke:0.2px #2a78b8;left:572.50px;transform:scaleX(0.8590) rotate(0.03deg);">290</span><span class="t" style="top:212px;font-size:11.3px;color:#08172a;-webkit-text-stroke:0.2px #08172a;left:683.20px;transform:scaleX(0.7829) rotate(0.03deg);">Якушев</span><svg style="left:6px;top:232px" width="13" height="13"><rect x="1.70" y="1.90" width="9.60" height="9.60" rx="1.7" fill="#fff" stroke="#dcdee4" stroke-width="1"/></svg><span class="t" style="top:233px;font-size:11.3px;color:#08172a;-webkit-text-stroke:0.2px #08172a;left:38.80px;transform:scaleX(0.8718) rotate(0.03deg);">07.08.2019</span><span class="t" style="top:233px;font-size:11.3px;color:#2a78b8;-webkit-text-stroke:0.2px #2a78b8;left:100.60px;transform:scaleX(0.8484) rotate(0.03deg);">312</span><span class="t" style="top:233px;font-size:11.3px;color:#08172a;-webkit-text-stroke:0.2px #08172a;left:196.30px;transform:scaleX(0.8825) rotate(0.03deg);">845 200,00</span><span class="t" style="top:233px;font-size:11.3px;color:#08172a;-webkit-text-stroke:0.2px #08172a;left:266.40px;transform:scaleX(0.8990) rotate(0.03deg);">Просрочен</span><span class="t" style="top:233px;font-size:11.3px;color:#08172a;-webkit-text-stroke:0.2px #08172a;left:330.20px;transform:scaleX(0.8718) rotate(0.03deg);">17.08.2019</span><span class="t" style="top:233px;font-size:11.3px;color:#2a78b8;-webkit-text-stroke:0.2px #2a78b8;left:497.70px;transform:scaleX(0.8590) rotate(0.03deg);">312</span><span class="t" style="top:233px;font-size:11.3px;color:#2a78b8;-webkit-text-stroke:0.2px #2a78b8;left:572.50px;transform:scaleX(0.8590) rotate(0.03deg);">312</span><span class="t" style="top:233px;font-size:11.3px;color:#08172a;-webkit-text-stroke:0.2px #08172a;left:683.20px;transform:scaleX(0.8128) rotate(0.03deg);">Тургенев</span><div class="a" style="left:5px;top:253.2px;width:627px;height:6.6px;background:#cfd3d7;border-radius:3.3px;"></div></div><span class="t" style="top:767px;font-size:10.8px;color:#9a9da6;-webkit-text-stroke:0.2px #9a9da6;left:777.90px;transform:scaleX(0.8293) rotate(0.03deg);">Отображать по</span><svg style="left:851px;top:757px" width="65" height="31"><rect x="1.70" y="1.80" width="61.40" height="26.80" rx="2.5" fill="#fff" stroke="#e4e6ec" stroke-width="1"/></svg><span class="t" style="top:768px;font-size:11.3px;color:#08172a;-webkit-text-stroke:0.2px #08172a;left:863.80px;transform:scaleX(0.9063) rotate(0.03deg);">20</span><svg style="left:895.2px;top:769.9px" width="8.6" height="4.8" viewBox="0 0 9 5" fill="none" stroke="#3b6da6" stroke-width="1.6" stroke-linecap="round" stroke-linejoin="round"><path d="M0.8 0.8L4.5 4L8.2 0.8"/></svg><svg style="left:208px;top:793px" width="708" height="49"><rect x="1.80" y="1.10" width="705.20" height="46.80" rx="5" fill="#fff"/></svg><svg style="left:216px;top:812px" width="13" height="14"><rect x="1.90" y="2.00" width="9.60" height="9.60" rx="1.7" fill="#fff" stroke="#dcdee4" stroke-width="1"/></svg><span class="t" style="top:814px;font-size:10.2px;color:#08172a;-webkit-text-stroke:0.2px #08172a;left:248.00px;transform:scaleX(0.8721) rotate(0.03deg);">Выбрано:</span><span class="t" style="top:814px;font-size:10.2px;color:#08172a;left:293.00px;transform:scaleX(0.7405) rotate(0.03deg);-webkit-text-stroke:0.5px #08172a;">1</span><span class="t" style="top:814px;font-size:10.2px;color:#08172a;-webkit-text-stroke:0.2px #08172a;left:339.70px;transform:scaleX(0.8466) rotate(0.03deg);">Сумма:</span><span class="t" style="top:814px;font-size:10.2px;color:#08172a;left:374.80px;transform:scaleX(0.8608) rotate(0.03deg);-webkit-text-stroke:0.5px #08172a;">393 080,00</span><svg style="left:471px;top:801px" width="91" height="33"><rect x="1.60" y="1.80" width="87.50" height="29.30" rx="2.5" fill="#fff" stroke="#dcdfe5" stroke-width="1"/></svg><svg style="left:494px;top:811.8px" width="10.9" height="11.1" viewBox="0 0 10.9 11.1" fill="none" stroke="#08172a" stroke-width="1" stroke-linecap="round" stroke-linejoin="round"><rect x="0.5" y="3.5" width="9.9" height="5.3" rx="0.6"/><rect x="1.5" y="4.7" width="7.9" height="1.9" fill="#7d8590" stroke="none"/><path d="M2.5 3.5V0.5H8.4V3.5"/><rect x="2.5" y="7.4" width="5.9" height="3.2" fill="#fff"/></svg><span class="t" style="top:813px;font-size:10.5px;color:#08172a;left:510.50px;transform:scaleX(0.8458) rotate(0.03deg);-webkit-text-stroke:0.45px #08172a;">Печать</span><svg style="left:568px;top:801px" width="91" height="33"><rect x="1.60" y="1.80" width="87.50" height="29.30" rx="2.5" fill="#fff" stroke="#dcdfe5" stroke-width="1"/></svg><svg style="left:583px;top:811.8px" width="11.1" height="11.1" viewBox="0 0 11.1 11.1" fill="none" stroke="#08172a" stroke-width="1" stroke-linecap="round" stroke-linejoin="round"><path d="M0.5 3.4V10.6H10.6V3.4"/><path d="M2.4 5V0.5H8.7V5"/><path d="M0.5 3.4L5.55 7.7L10.6 3.4"/><path d="M0.5 10.6L4.3 6.8M10.6 10.6L6.8 6.8"/></svg><span class="t" style="top:813px;font-size:10.5px;color:#08172a;left:599.70px;transform:scaleX(0.8487) rotate(0.03deg);-webkit-text-stroke:0.45px #08172a;">Отправить</span><svg style="left:665px;top:801px" width="91" height="33"><rect x="1.70" y="1.80" width="87.50" height="29.30" rx="2.5" fill="#fff" stroke="#dcdfe5" stroke-width="1"/></svg><svg style="left:679.6px;top:813.4px" width="12" height="8" viewBox="0 0 12 8" fill="none" stroke="#08172a" stroke-width="1.2" stroke-linecap="round" stroke-linejoin="round"><path d="M0.7 3.8L4.3 7.1L11.3 0.7"/></svg><span class="t" style="top:813px;font-size:10.5px;color:#08172a;left:697.10px;transform:scaleX(0.8796) rotate(0.03deg);-webkit-text-stroke:0.45px #08172a;">Оплачены</span><svg style="left:762px;top:801px" width="91" height="33"><rect x="1.80" y="1.80" width="87.40" height="29.30" rx="2.5" fill="#fff" stroke="#dcdfe5" stroke-width="1"/></svg><svg style="left:782.7px;top:811.8px" width="9.9" height="11.1" viewBox="0 0 9.9 11.1" fill="none" stroke="#08172a" stroke-width="1" stroke-linecap="round" stroke-linejoin="round"><path d="M0.4 2.7H9.5"/><path d="M2.7 2.7V0.9Q2.7 0.5 3.1 0.5H6.8Q7.2 0.5 7.2 0.9V2.7"/><path d="M1.2 2.7V10.6H8.7V2.7"/><path d="M1.2 8.6H8.7"/></svg><span class="t" style="top:813px;font-size:10.5px;color:#08172a;left:799.10px;transform:scaleX(0.8530) rotate(0.03deg);-webkit-text-stroke:0.45px #08172a;">Удалить</span><svg style="left:859px;top:801px" width="50" height="33"><rect x="1.80" y="1.80" width="46.50" height="29.30" rx="2.5" fill="#fff" stroke="#dcdfe5" stroke-width="1"/></svg><span class="t" style="top:813px;font-size:10.5px;color:#08172a;left:868.60px;transform:scaleX(0.8047) rotate(0.03deg);-webkit-text-stroke:0.45px #08172a;">Еще</span><svg style="left:890.8px;top:815.5px" width="9" height="5" viewBox="0 0 9 5" fill="none" stroke="#c2c5cc" stroke-width="1.1" stroke-linecap="round" stroke-linejoin="round"><path d="M0.7 4.3L4.5 0.8L8.3 4.3"/></svg>
</div></body></html>
